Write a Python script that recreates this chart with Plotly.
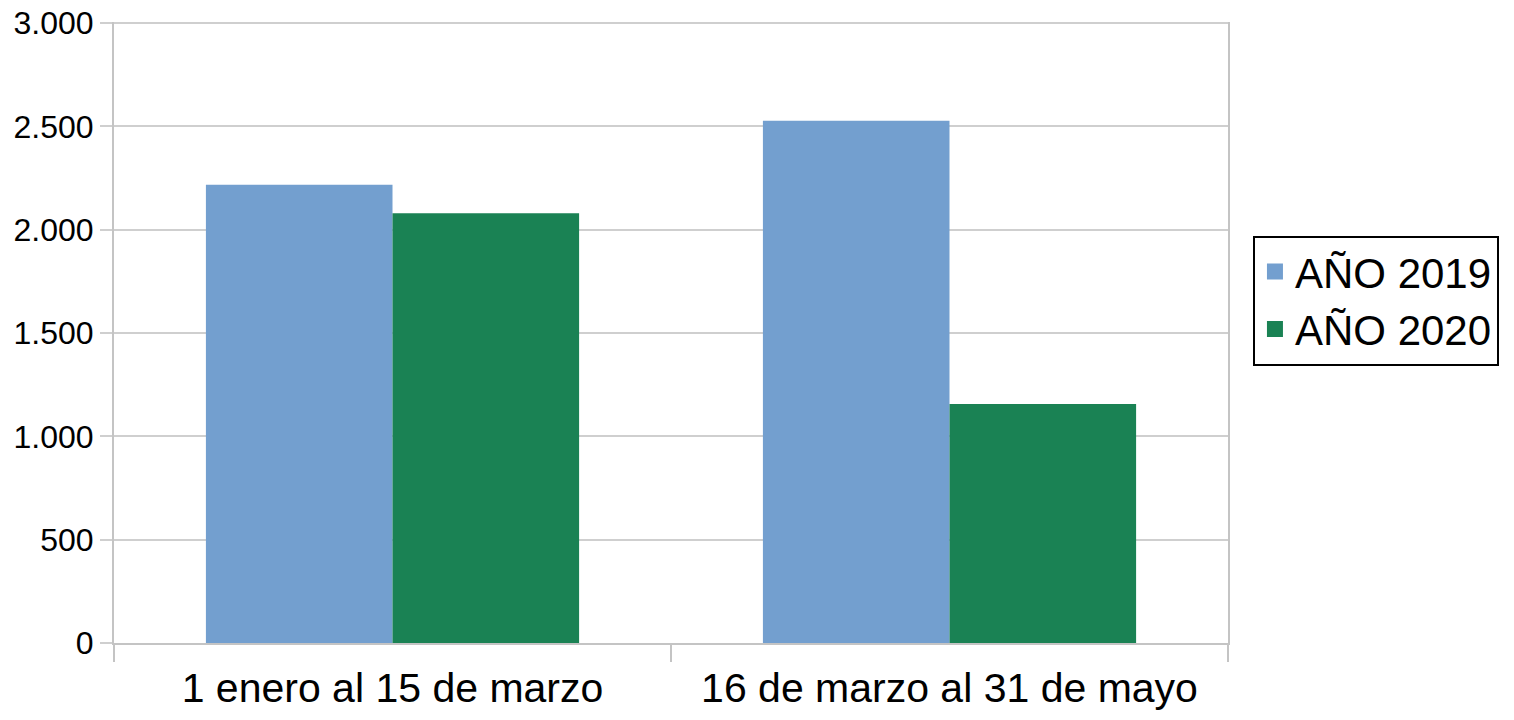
import plotly.graph_objects as go

categories = ["1 enero al 15 de marzo", "16 de marzo al 31 de mayo"]
series_names = ["AÑO 2019", "AÑO 2020"]
values_2019 = [2217, 2527]
values_2020 = [2080, 1156]
y_range = [0, 3005]
y_step = 500

colors = ["#739fcf", "#1a8254"]
FONT = "Liberation Sans, Arial, sans-serif"

fig = go.Figure()
for name, vals, col in zip(series_names, [values_2019, values_2020], colors):
    fig.add_trace(go.Bar(x=categories, y=vals, name=name, marker=dict(color=col, line=dict(width=0)),
                         showlegend=False))
for name, col in zip(series_names, colors):
    fig.add_trace(go.Scatter(x=[None], y=[None], mode="markers", name=name,
                             marker=dict(symbol="square", size=22, color=col), showlegend=True))

# page body has an 8px margin: figure sits at (8, 8)
fig.update_layout(
    width=1498, height=704,
    margin=dict(l=106, r=278, t=14, b=69, autoexpand=False),
    paper_bgcolor="white", plot_bgcolor="white",
    barmode="group", bargap=0.33, bargroupgap=0,
    separators=",.",
    font=dict(family=FONT, color="black"),
    legend=dict(x=1.0224, y=0.656, xanchor="left", yanchor="top",
                bordercolor="black", borderwidth=2, font=dict(size=42, family=FONT),
                itemsizing="trace", tracegroupgap=0, bgcolor="white"),
)
fig.update_xaxes(
    showline=True, linecolor="#c4c4c4", linewidth=2, automargin=False,
    ticks="outside", tickson="boundaries", ticklen=17, tickcolor="#c4c4c4", tickwidth=2,
    tickfont=dict(size=41, family=FONT), showgrid=False, ticklabelstandoff=8,
)
fig.update_yaxes(
    range=y_range, tickmode="linear", tick0=0, dtick=y_step, tickformat=",d", automargin=False,
    showline=True, mirror=True, linecolor="#c4c4c4", linewidth=2,
    showgrid=True, gridcolor="#cfcfcf", gridwidth=2, ticklabeloverflow="allow",
    ticks="outside", ticklen=12, tickcolor="#cfcfcf", tickwidth=2,
    tickfont=dict(size=32, family=FONT), zeroline=False,
)

fig.write_html("out.html")
